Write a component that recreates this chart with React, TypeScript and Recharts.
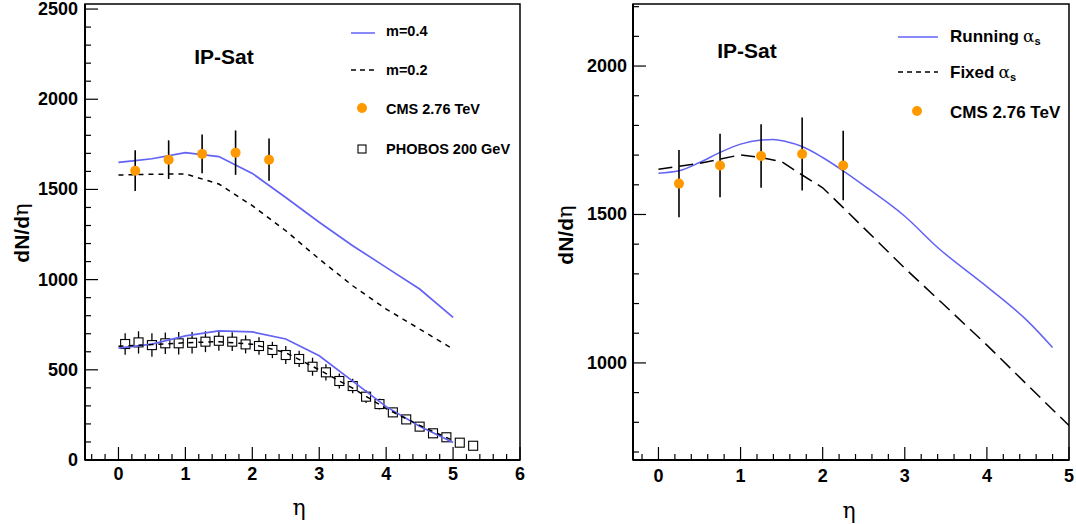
import React from "react";
import { ComposedChart, Line, Scatter, ErrorBar, XAxis, YAxis, ReferenceArea } from "recharts";

const FONT = "'Liberation Sans', Arial, Helvetica, sans-serif";
const SERIF = "'DejaVu Serif', 'Liberation Serif', serif";
const BLUE = "#6262f4";
const ORANGE = "#ff9900";

// CMS 2.76 TeV, same points in both panels
const cmsEta = [0.25, 0.75, 1.25, 1.75, 2.25];
const cmsVal = [1604, 1665, 1697, 1704, 1665];
const cmsErr = [113, 107, 107, 123, 117];

// PHOBOS 200 GeV
const phobosEta = [0.1, 0.3, 0.5, 0.7, 0.9, 1.1, 1.3, 1.5, 1.7, 1.9, 2.1, 2.3, 2.5, 2.7, 2.9, 3.1, 3.3, 3.5, 3.7, 3.9, 4.1, 4.3, 4.5, 4.7, 4.9, 5.1, 5.3];
const phobosVal = [643, 652, 637, 647, 647, 650, 656, 661, 656, 641, 632, 610, 582, 560, 517, 486, 438, 410, 351, 310, 264, 225, 185, 148, 126, 96, 79];
const phobosErr = [60, 62, 65, 60, 62, 60, 58, 55, 52, 50, 48, 45, 50, 45, 50, 45, 42, 40, 35, 30, 26, 22, 18, 15, 13, 10, 8];

// left panel: IP-Sat curves
const etaM04Lhc = [0, 0.25, 0.5, 1, 1.5, 2, 2.5, 3, 3.5, 4, 4.5, 5];
const m04Lhc = [1650, 1660, 1670, 1704, 1682, 1589, 1455, 1318, 1188, 1068, 948, 791];
const etaCurves = [0, 0.5, 1, 1.5, 2, 2.5, 3, 3.5, 4, 4.5, 5];
const m02Lhc = [1580, 1584, 1586, 1530, 1410, 1271, 1114, 966, 837, 726, 615];
const m04Rhic = [620, 642, 688, 716, 710, 671, 578, 437, 296, 187, 97];
const m02Rhic = [630, 640, 650, 656, 642, 595, 500, 398, 285, 192, 108];

// right panel: running vs fixed coupling
const etaRunning = [0, 0.25, 0.5, 0.75, 1, 1.25, 1.4, 1.55, 1.75, 2, 2.25, 2.5, 3, 3.4, 4, 4.5, 4.8];
const running = [1639, 1647, 1675, 1709, 1737, 1751, 1753, 1746, 1729, 1692, 1647, 1598, 1494, 1389, 1257, 1140, 1052];
const etaFixed = [0, 0.5, 1, 1.25, 1.5, 1.75, 2, 2.25, 2.5, 3, 3.5, 4, 4.5, 5];
const fixed = [1652, 1672, 1701, 1692, 1678, 1633, 1590, 1523, 1455, 1319, 1190, 1060, 924, 789];

// ticks (majors get labels, minors are short marks)
const leftXMajor = [0, 1, 2, 3, 4, 5, 6];
const leftYMajor = [0, 500, 1000, 1500, 2000, 2500];
const rightXMajor = [0, 1, 2, 3, 4, 5];
const rightYMajor = [1000, 1500, 2000];

const steps = (from: number, to: number, step: number) => {
  const out: number[] = [];
  for (let v = from; v <= to + 1e-9; v += step) out.push(Math.round(v * 100) / 100);
  return out;
};

const pts = (xs: number[], ys: number[], es?: number[]) =>
  xs.map((x, i) => ({ x, y: ys[i], err: es ? es[i] : 0 }));

function XTick(props: any) {
  const { x, y, payload, majors, dy } = props;
  const v = payload.value;
  const major = majors.some((m: number) => Math.abs(m - v) < 1e-6);
  return (
    <g>
      <line x1={x} x2={x} y1={y} y2={y - (major ? 13 : 6)} stroke="#000" strokeWidth={1.2} />
      {major && (
        <text x={x} y={y + dy} textAnchor="middle" dominantBaseline="central" fontFamily={FONT} fontWeight="bold" fontSize={18} fill="#000">
          {Math.round(v)}
        </text>
      )}
    </g>
  );
}

function YTick(props: any) {
  const { x, y, payload, majors, dx } = props;
  const v = payload.value;
  const major = majors.includes(v);
  return (
    <g>
      <line x1={x} x2={x + (major ? 13 : 6)} y1={y} y2={y} stroke="#000" strokeWidth={1.2} />
      {major && (
        <text x={x - dx} y={y} textAnchor="end" dominantBaseline="central" fontFamily={FONT} fontWeight="bold" fontSize={18} fill="#000">
          {v}
        </text>
      )}
    </g>
  );
}

const cmsShape = (p: any) => <circle cx={p.cx} cy={p.cy} r={5} fill={ORANGE} />;
const noShape = () => <g />;
const squareShape = (p: any) => (
  <rect x={p.cx - 4.5} y={p.cy - 4.5} width={9} height={9} fill="#fff" stroke="#000" strokeWidth={1.1} />
);

function LeftPanel() {
  return (
    <ComposedChart width={540} height={524} margin={{ top: 4, right: 20, left: 25, bottom: 24 }}>
      <XAxis
        type="number"
        dataKey="x"
        domain={[-0.5, 6]}
        allowDataOverflow
        ticks={steps(-0.4, 6, 0.2)}
        interval={0}
        height={40}
        tickSize={0}
        tickMargin={0}
        axisLine={{ stroke: "#000", strokeWidth: 2 }}
        tickLine={false}
        tick={(p: any) => <XTick {...p} majors={leftXMajor} dy={14} />}
      />
      <YAxis
        type="number"
        domain={[0, 2528]}
        allowDataOverflow
        ticks={steps(0, 2500, 100)}
        interval={0}
        width={60}
        tickSize={0}
        tickMargin={0}
        axisLine={{ stroke: "#000", strokeWidth: 2 }}
        tickLine={false}
        tick={(p: any) => <YTick {...p} majors={leftYMajor} dx={7} />}
      />
      <ReferenceArea x1={-0.5} x2={6} y1={0} y2={2528} fill="none" stroke="#000" strokeWidth={1.5} />
      <Scatter data={pts(phobosEta, phobosVal, phobosErr)} dataKey="y" shape={noShape} zIndex={240} isAnimationActive={false}>
        <ErrorBar dataKey="err" direction="y" width={0} stroke="#000" strokeWidth={1.3} zIndex={250} />
      </Scatter>
      <Scatter data={pts(phobosEta, phobosVal)} dataKey="y" shape={squareShape} zIndex={300} isAnimationActive={false} />
      <Line data={pts(etaM04Lhc, m04Lhc)} dataKey="y" type="linear" stroke={BLUE} strokeWidth={1.7} dot={false} isAnimationActive={false} />
      <Line data={pts(etaCurves, m02Lhc)} dataKey="y" type="linear" stroke="#000" strokeWidth={1.5} strokeDasharray="5 5" dot={false} isAnimationActive={false} />
      <Line data={pts(etaCurves, m04Rhic)} dataKey="y" type="linear" stroke={BLUE} strokeWidth={1.7} dot={false} isAnimationActive={false} />
      <Line data={pts(etaCurves, m02Rhic)} dataKey="y" type="linear" stroke="#000" strokeWidth={1.5} strokeDasharray="5 5" dot={false} isAnimationActive={false} />
      <Scatter data={pts(cmsEta, cmsVal, cmsErr)} dataKey="y" shape={noShape} zIndex={540} isAnimationActive={false}>
        <ErrorBar dataKey="err" direction="y" width={0} stroke="#000" strokeWidth={1.6} zIndex={550} />
      </Scatter>
      <Scatter data={pts(cmsEta, cmsVal)} dataKey="y" shape={cmsShape} zIndex={700} isAnimationActive={false} />
    </ComposedChart>
  );
}

function RightPanel() {
  return (
    <ComposedChart width={536} height={524} margin={{ top: 4, right: 7, left: 33, bottom: 24 }}>
      <XAxis
        type="number"
        dataKey="x"
        domain={[-0.31, 5]}
        allowDataOverflow
        ticks={steps(-0.2, 5, 0.2)}
        interval={0}
        height={40}
        tickSize={0}
        tickMargin={0}
        axisLine={{ stroke: "#000", strokeWidth: 2 }}
        tickLine={false}
        tick={(p: any) => <XTick {...p} majors={rightXMajor} dy={16} />}
      />
      <YAxis
        type="number"
        domain={[673, 2209]}
        allowDataOverflow
        ticks={steps(700, 2200, 100)}
        interval={0}
        width={60}
        tickSize={0}
        tickMargin={0}
        axisLine={{ stroke: "#000", strokeWidth: 2 }}
        tickLine={false}
        tick={(p: any) => <YTick {...p} majors={rightYMajor} dx={6} />}
      />
      <ReferenceArea x1={-0.31} x2={5} y1={673} y2={2209} fill="none" stroke="#000" strokeWidth={1.5} />
      <Line data={pts(etaRunning, running)} dataKey="y" type="monotone" stroke={BLUE} strokeWidth={1.5} dot={false} isAnimationActive={false} />
      <Line data={pts(etaFixed, fixed)} dataKey="y" type="linear" stroke="#000" strokeWidth={1.5} strokeDasharray="14 7" dot={false} isAnimationActive={false} />
      <Scatter data={pts(cmsEta, cmsVal, cmsErr)} dataKey="y" shape={noShape} zIndex={540} isAnimationActive={false}>
        <ErrorBar dataKey="err" direction="y" width={0} stroke="#000" strokeWidth={1.6} zIndex={550} />
      </Scatter>
      <Scatter data={pts(cmsEta, cmsVal)} dataKey="y" shape={cmsShape} zIndex={700} isAnimationActive={false} />
    </ComposedChart>
  );
}

function Alpha({ size }: { size: number }) {
  return (
    <>
      <tspan dx={4} fontFamily={SERIF} fontWeight="normal">α</tspan>
      <tspan dy={5} fontSize={size * 0.65}>s</tspan>
    </>
  );
}

function Overlay() {
  const bold = { fontFamily: FONT, fontWeight: "bold" as const, fill: "#000" };
  return (
    <svg width={1076} height={524} style={{ position: "absolute", left: 0, top: 0, pointerEvents: "none" }}>
      {/* left panel */}
      <text x={224} y={56} textAnchor="middle" dominantBaseline="central" fontSize={21} {...bold}>IP-Sat</text>
      <line x1={351} x2={375} y1={33} y2={33} stroke={BLUE} strokeWidth={1.5} />
      <text x={386} y={31} dominantBaseline="central" fontSize={14.5} {...bold}>m=0.4</text>
      <line x1={351} x2={375} y1={70} y2={70} stroke="#000" strokeWidth={1.5} strokeDasharray="5 4" />
      <text x={386} y={70} dominantBaseline="central" fontSize={14.5} {...bold}>m=0.2</text>
      <circle cx={362} cy={108} r={5} fill={ORANGE} />
      <text x={386} y={109} dominantBaseline="central" fontSize={14.5} {...bold}>CMS 2.76 TeV</text>
      <rect x={358} y={145} width={8} height={8} fill="#fff" stroke="#000" strokeWidth={1.1} />
      <text x={386} y={149} dominantBaseline="central" fontSize={14.5} {...bold}>PHOBOS 200 GeV</text>
      <text transform="translate(21,233) rotate(-90)" textAnchor="middle" dominantBaseline="central" fontSize={21} {...bold}>
        dN/d<tspan fontFamily={SERIF} fontWeight="normal">η</tspan>
      </text>
      <text x={299} y={507} textAnchor="middle" dominantBaseline="central" fontSize={22} fontFamily={SERIF}>η</text>

      {/* right panel */}
      <text x={747} y={50} textAnchor="middle" dominantBaseline="central" fontSize={21} {...bold}>IP-Sat</text>
      <line x1={898} x2={938} y1={37} y2={37} stroke={BLUE} strokeWidth={1.5} />
      <text x={950} y={36} dominantBaseline="central" fontSize={17} {...bold}>Running<Alpha size={17} /></text>
      <line x1={898} x2={938} y1={72} y2={72} stroke="#000" strokeWidth={1.5} strokeDasharray="5 4" />
      <text x={950} y={72} dominantBaseline="central" fontSize={17} {...bold}>Fixed<Alpha size={17} /></text>
      <circle cx={917} cy={111} r={5} fill={ORANGE} />
      <text x={950} y={112} dominantBaseline="central" fontSize={17} {...bold}>CMS 2.76 TeV</text>
      <text transform="translate(565,235) rotate(-90)" textAnchor="middle" dominantBaseline="central" fontSize={21} {...bold}>
        dN/d<tspan fontFamily={SERIF} fontWeight="normal">η</tspan>
      </text>
      <text x={849} y={510} textAnchor="middle" dominantBaseline="central" fontSize={22} fontFamily={SERIF}>η</text>
    </svg>
  );
}

export default function App() {
  return (
    <div style={{ position: "absolute", left: 0, top: 0, width: 1076, height: 524, background: "#fff" }}>
      <div style={{ position: "absolute", left: 0, top: 0 }}>
        <LeftPanel />
      </div>
      <div style={{ position: "absolute", left: 540, top: 0 }}>
        <RightPanel />
      </div>
      <Overlay />
    </div>
  );
}
